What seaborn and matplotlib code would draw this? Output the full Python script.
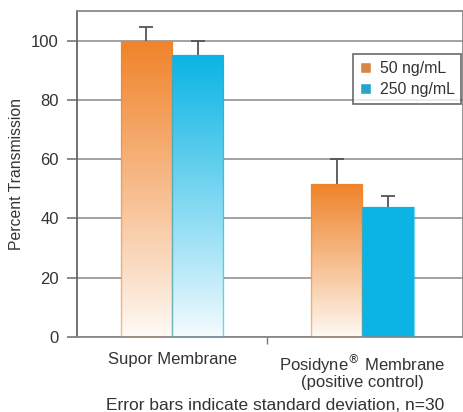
import matplotlib
matplotlib.use("Agg")
import matplotlib.pyplot as plt
import matplotlib.colors as mcolors
import numpy as np
import pandas as pd
import seaborn as sns

# Data
membranes = ["Supor Membrane", "Posidyne$^{®}$ Membrane\n(positive control)"]
concentrations = ["50 ng/mL", "250 ng/mL"]
mean_50 = [100.0, 51.5]
mean_250 = [95.0, 44.0]
sd_50 = [4.7, 8.5]
sd_250 = [5.0, 3.5]

colors = {"50 ng/mL": "#F0832A", "250 ng/mL": "#0BB4E4"}

df = pd.DataFrame({
    "membrane": membranes * 2,
    "conc": [concentrations[0]] * 2 + [concentrations[1]] * 2,
    "value": mean_50 + mean_250,
    "sd": sd_50 + sd_250,
})

sns.set_style("white")
plt.rcParams["font.family"] = ["Liberation Sans", "DejaVu Sans"]

fig = plt.figure(figsize=(4.64, 4.12), dpi=100)
ax = fig.add_axes([77 / 464, 1 - 337 / 412, (463 - 77) / 464, (337 - 11) / 412])

sns.barplot(data=df, x="membrane", y="value", hue="conc", palette=colors,
            order=membranes, hue_order=concentrations, width=0.54, gap=0,
            errorbar=None, ax=ax, zorder=2)

# gradient fill: solid colour at top fading to white at bottom
bars = [p for p in ax.patches if p.get_height() > 0]
for p, (_, row) in zip(bars, df.iterrows()):
    x0, y0 = p.get_x(), p.get_y()
    w, h = p.get_width(), p.get_height()
    rgb = np.array(mcolors.to_rgb(colors[row["conc"]]))
    solid = row["conc"] == "250 ng/mL" and row["membrane"] != membranes[0]
    t = np.linspace(1, 0, 200)[:, None]  # top -> bottom
    if solid:
        a = np.ones_like(t)
    else:
        a = 0.04 + 0.96 * t ** 0.95
    img = np.ones((200, 1, 3)) * (1 - a[..., None]) + rgb * a[..., None]
    im = ax.imshow(img, extent=[x0, x0 + w, y0, y0 + h], aspect="auto",
                   origin="upper", zorder=2.5, interpolation="bilinear")
    im.set_clip_path(p)
    p.set_facecolor("none")
    p.set_edgecolor(mcolors.to_rgba(colors[row["conc"]], 0.55))
    p.set_linewidth(1.0)
    p.set_zorder(3)
    # upper-only error bar
    _, caps, _ = ax.errorbar(x0 + w / 2, row["value"], yerr=[[0], [row["sd"]]],
                             fmt="none", ecolor="#555555", elinewidth=1.3,
                             capsize=5, capthick=1.3, zorder=1.5)
    caps[0].remove()

ax.set_ylim(0, 110)
ax.set_xlim(-0.5, 1.53)
ax.set_yticks([0, 20, 40, 60, 80, 100])
ax.yaxis.grid(True, color="#9a9a9a", linewidth=1.3, zorder=0)
ax.set_axisbelow(True)
ax.tick_params(axis="y", direction="out", length=7, width=1.2, color="#777777",
               labelsize=12, labelcolor="#333333", pad=6, left=True)
ax.tick_params(axis="x", length=0, labelsize=12, labelcolor="#333333", pad=11)
ax.set_xticks([0, 1])
ax.set_xticklabels(membranes, linespacing=0.95)
ax.set_xticks([0.5], minor=True)
ax.tick_params(axis="x", which="minor", direction="out", length=5, width=1,
               color="#777777", bottom=True)
ax.set_xlabel("")
ax.set_ylabel("Percent Transmission", fontsize=11.3, color="#333333")
ax.yaxis.set_label_coords(-0.138, 0.5)

for side, sp in ax.spines.items():
    sp.set_visible(True)
    sp.set_color("#888888")
    sp.set_linewidth(1.3)
ax.spines["left"].set_color("#666666")

leg = ax.legend(loc="upper right", bbox_to_anchor=(0.995, 0.868), frameon=True,
                borderaxespad=0, fancybox=False, fontsize=11.4,
                handlelength=0.7, handleheight=0.7, handletextpad=0.55,
                borderpad=0.42, labelspacing=0.4)
leg.get_frame().set_edgecolor("#444444")
leg.get_frame().set_linewidth(1.2)
for t in leg.get_texts():
    t.set_color("#333333")

fig.text(275 / 464, 1 - 406 / 412, "Error bars indicate standard deviation, n=30",
         ha="center", va="center", fontsize=12.5, color="#333333")

fig.savefig("out.png", dpi=100)
